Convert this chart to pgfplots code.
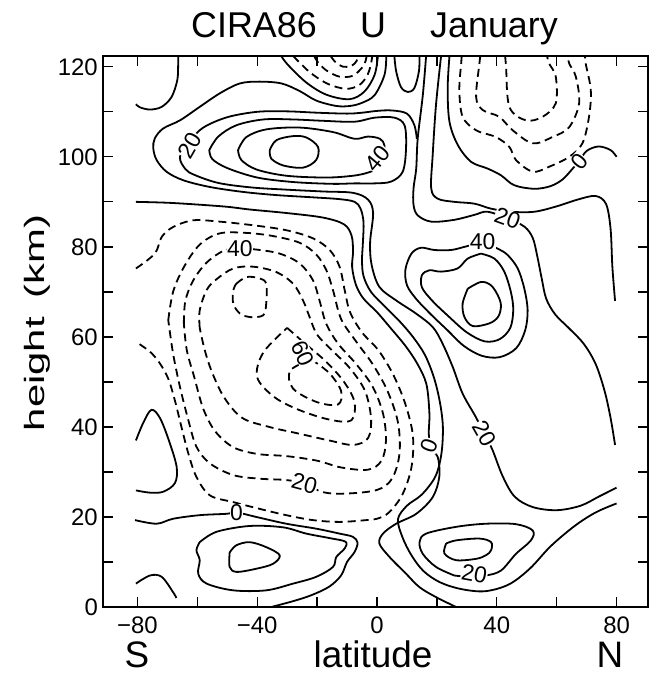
\documentclass[border=0pt]{standalone}
\usepackage{fontspec}
\setmainfont{Liberation Sans}
\usepackage{pgfplots}
\pgfplotsset{compat=1.18}
\begin{document}
\begin{tikzpicture}[x=1bp,y=1bp,
  sol/.style={line width=1.8bp, black, smooth, tension=0.55},
  das/.style={line width=1.8bp, black, smooth, tension=0.55, dash pattern=on 8bp off 5bp},
  lab/.style={font=\fontsize{23}{23}\selectfont, fill=white, inner sep=0.5bp}]
\path[use as bounding box] (-103,-68) rectangle (548,607);
\begin{axis}[
  at={(0,0)}, anchor=south west,
  width=545bp, height=551bp, scale only axis,
  xmin=-91.5, xmax=90.5, ymin=0, ymax=122.4,
  axis line style={line width=1.6bp},
  tick align=inside, major tick length=10bp,
  every tick/.style={line width=1.3bp, black},
  xtick={-80,-60,...,80}, xticklabels={\char"2212 80,,\char"2212 40,,0,,40,,80},
  ytick={0,10,...,120}, yticklabels={0,,20,,40,,60,,80,,100,,120},
  ticklabel style={font=\fontsize{24}{24}\selectfont},
  xticklabel style={anchor=north, inner sep=0pt, yshift=-10bp},
  yticklabel style={anchor=east, inner sep=0pt, xshift=-5bp},
]
% ---------- upper region ----------
\addplot[sol] coordinates {(-66.4,122.4)(-66.4,120.4)(-66.7,117)(-68.6,113.3)(-71.9,111.1)(-75.8,110.5)(-79.2,111)(-80.5,111.7)};
\addplot[das] coordinates {(-28,122.4)(-25.8,120.9)(-21.9,118.5)(-16.4,116.2)(-10.3,115.1)(-5.8,116)(-3.1,118.3)(-1.9,121)(-1.6,122.4)};
\addplot[das] coordinates {(-21,122.4)(-19.7,121)(-16.9,119.2)(-12.5,117.8)(-8.1,118)(-5,119.8)(-3.8,121.3)(-3.5,122.4)};
\addplot[das] coordinates {(-15.5,122.4)(-13.8,121)(-11.3,120)(-8.5,120.2)(-6.8,121.3)(-6.4,122.4)};
% 0 around top lobe
\addplot[sol] coordinates {(-32,122.4)(-29.7,120.4)(-23.6,116.5)(-16.9,113.8)(-9.2,112.8)(-4.2,114.5)(-0.8,118.2)(0.3,122.4)};
% V
\addplot[sol] coordinates {(5.8,122.4)(6.4,119)(8,115.5)(10.3,114.4)(12.5,115.3)(14,119)(14.2,122.4)};
% 10
\addplot[sol] coordinates {(3.1,122.4)(2.5,118.2)(-0.8,113.7)(-5,112)(-9,111.3)(-13.6,111.3)(-20.3,112.5)(-25.8,114.6)(-31.9,116.3)(-39.2,116.7)(-45.8,116.3)(-52.5,114.1)(-59.2,111.1)(-65.8,108.1)(-71.4,106.3)(-74.2,104.1)(-74.7,101.9)(-73.6,99.3)(-70.3,96.7)(-64.7,94.8)(-55.8,93.3)(-44.7,92.2)(-33.6,91.5)(-21.4,91)(-12.5,90.6)(-7.5,90)(-5.5,88.5)(-4.5,85.5)(-4.7,81)(-5,77)(-4.5,73.5)(-2,70)(3,66.5)(7.5,63.5)(12,60)(16,56)(19,51)(21,45.5)(22,40)(21.5,34)(19.5,29)(15,25)(10,22.5)(7,19.5)(8.5,15.5)(11.5,11.5)(15.5,8)(21,5.5)(28,4)(36,3.5)(44,5)(51,8.5)(58,13.5)(66,18)(73,21)(80,23)};
% 20 (upper jet + band)
\addplot[sol] coordinates {(13.3,104)(12.5,107)(10,109.6)(5,110.3)(0,110.2)(-5,109.8)(-10,109.6)(-20,109.8)(-30,110.1)(-40,110)(-50,108.8)(-58,106.5)(-62.5,103.5)(-65.8,100)(-64,97.3)(-61,96)(-53,94.2)(-42,93.2)(-30,92.7)(-18,92.3)(-8,92)(-3,90.5)(-1.3,87.5)(-2.3,81)(-1.8,76)(0.8,71.1)(6.4,68.1)(13,65.2)(18.6,62.2)(21.9,58.5)(25.3,53.3)(28.6,47.4)(33,42.2)(35.8,38.5)(38.5,35)(42,29)(46,24.5)(52,22.2)(60,21.5)(68,22.5)(74,24.5)(80,26.5)};
% 30
\addplot[sol] coordinates {(-56,101.5)(-53,104.5)(-47,107)(-38,108.3)(-28,108.3)(-18,108)(-7.5,107.8)(-0.8,108.7)(5.8,108.7)(9.2,107)(9.7,101.9)(8.6,96.7)(4.7,94.5)(-0.8,94.1)(-7.5,94.1)(-15,94)(-28,94.4)(-40,95.4)(-50,97.5)(-55,99.5)(-56,101.5)};
% 40
\addplot[sol] coordinates {(-46.4,101.5)(-43.6,104.4)(-36.9,106.1)(-25.8,106.5)(-14.7,105.5)(-7.5,104)(-3,104.5)(1,104)(2.5,102.5)(2,99.8)(0,97.5)(-3,96.5)(-8,95.8)(-17,95.4)(-30.3,95.8)(-40.3,97.2)(-45.3,99.3)(-46.4,101.5)};
% 50
\addplot[sol] coordinates {(-35.8,101.5)(-33.6,103.7)(-28,104.6)(-23.6,104.3)(-19.7,102.2)(-20.3,99.3)(-24.7,97.6)(-31.4,98.1)(-35.3,99.6)(-35.8,101.5)};
% 0 (L2)
\addplot[sol] coordinates {(-80.5,90)(-70,89.8)(-60,89.4)(-50,88.9)(-42.5,88.3)(-30,87.5)(-18,86.5)(-11,85)(-8.5,82.5)(-8,79)(-8.3,75.5)(-7,71.5)(-4.5,68.5)(0,65.5)(4.5,62)(9.5,58)(13.5,54)(16.5,49.5)(17.5,43)(17.3,38.5)(18,35)(20.3,33.3)(20.8,28.9)(18.6,24.4)(13.1,20.7)(6.4,18.5)(2,16.3)(0.8,14.1)(4.2,11.1)(9.7,7.4)(14.2,4.4)(19.7,2.2)(26.4,0)};
% ---------- northern upper ----------
\addplot[das] coordinates {(28.3,122.4)(28.1,120.7)(27.5,114.8)(28.6,108.9)(33.1,105.9)(39.7,104.4)(44.2,102.2)(46.4,99.3)(52,96.7)(57.5,97.8)(64.2,100)(68.6,103)(70.8,108.9)(71.4,114.8)(69.7,120.7)(69.5,122.4)};
\addplot[das] coordinates {(34.5,122.4)(34.2,120.7)(33.1,113.3)(35.3,110.4)(40.8,108.9)(45.3,105.9)(52,103)(58.6,104.4)(64.2,106.6)(67.5,111.9)(66.4,117.8)(64.2,120.7)(63.8,122.4)};
\addplot[das] coordinates {(42.8,122.4)(43.1,120)(44.2,111.1)(49.7,108.1)(55.3,108.9)(59.7,111.9)(59.7,117.8)(57.5,120.7)(56.8,122.4)};
% 0 NE
\addplot[sol] coordinates {(24.2,122.4)(23.6,115.2)(24.2,107.8)(27,102.6)(31.4,98.9)(36.9,97.4)(41.4,95.9)(45.8,93.7)(52.5,92.9)(58,93.5)(62,95)(65.5,97.5)(67.5,99)(70,101.3)(74,102.3)(78,101.5)(80,100)};
% 10 NE
\addplot[sol] coordinates {(21.4,122.4)(19.7,111.5)(18.6,100.4)(18.1,93)(20.3,90.7)(25.8,90)(32.5,89.6)(38,88.5)(44.7,87.8)(52.5,87.8)(60,89)(67,90.5)(73,91.3)(76.5,89.5)(78,84)(78.6,75.6)(79.5,68)};
% 20 NE
\addplot[sol] coordinates {(16.4,122.4)(15.3,113.7)(13.6,104.1)(13.1,97.4)(12.2,93)(12.2,89.3)(13.6,87)(18.1,85.6)(25.8,86)(32.5,87.1)(36.9,87.8)(43.6,86.3)(49.2,84.5)(52,82)(53.5,78)(55,73)(56.5,68.5)(59.5,65)(64,62)(69,58.5)(73,54)(76,48)(78,42)(79.5,36)};
% north stratopause jet
\addplot[sol] coordinates {(35.3,81.1)(40.3,79.6)(43.6,78.2)(47,75.2)(49.2,70.7)(50.3,66)(49.5,61.5)(46.5,57.5)(41,55.5)(35,55.8)(29,58)(23.5,61.5)(18,65)(13,68.5)(10,71.5)(9.5,75)(11.5,78.5)(14.7,79.8)(19.2,79.3)(24.7,79.3)(29.2,80)(35.3,81.1)};
\addplot[sol] coordinates {(34.7,78.5)(39.2,77.4)(42.5,74.5)(44.7,70)(45.5,66)(44.5,62)(41,59.5)(36,59)(30,61)(24,64.5)(18.5,68)(15,71)(15,73.7)(17.5,74.8)(21.4,74.5)(26.9,75.2)(30.3,77.4)(34.7,78.5)};
\addplot[sol] coordinates {(30.3,70.7)(34.7,72.2)(38,71.5)(40.3,69.3)(41.4,67)(40.5,64.5)(37.5,63)(32,62.4)(29.2,64.4)(28.6,67.4)(30.3,70.7)};
% ---------- northern lower jet ----------
\addplot[sol] coordinates {(25.8,7)(19.7,8.9)(15.3,11.8)(14.2,14.4)(16.4,16.3)(26.4,17.8)(36.4,18.5)(46.4,18.4)(52,17)(51.4,14.8)(46.4,11.8)(41.4,8.1)(36.4,7)(30.8,6.7)(25.8,7)};
\addplot[sol] coordinates {(23.1,14.1)(26.4,14.8)(34.2,15.2)(38.1,14.4)(38.1,12.6)(36.4,11.5)(33.1,10.7)(26.4,10.4)(22.5,11.9)(23.1,14.1)};
% ---------- southern lower ----------
\addplot[sol] coordinates {(-80.5,37)(-78,41)(-75.3,43.8)(-72.5,42)(-69.5,37)(-66.9,31.1)(-67.5,27.5)(-71.4,25.6)(-75.8,25.4)(-80.5,25.9)};
\addplot[sol] coordinates {(-80.5,5.2)(-75.8,7)(-71.9,6.7)(-68.1,3.3)(-67,2)};
\addplot[sol] coordinates {(-80.8,19.3)(-73.6,18.5)(-68.1,19.6)(-59.2,20.4)(-50.3,20.7)(-46.9,21)(-40.3,20)(-30.3,18.5)(-20.3,17.4)(-12.5,16.3)(-8.1,15.6)(-6.5,14.3)(-7.5,12.2)(-10,10)(-12,7)(-16,4.5)(-22,2.6)(-28,1.3)(-35.3,0)};
\addplot[sol] coordinates {(-59.2,14.4)(-53.6,16.7)(-42.5,18)(-31.4,17.7)(-23.6,16.3)(-15.8,15.3)(-10.5,14.5)(-10.8,13)(-13.6,11.1)(-14.7,8.9)(-20.3,6.7)(-28,5.2)(-37,3.7)(-48,3.7)(-56.9,5.2)(-59.7,7.4)(-59.2,10.4)(-60.3,12.6)(-59.2,14.4)};
\addplot[sol] coordinates {(-49.2,12.1)(-47,13.7)(-42.5,14.4)(-37,13.3)(-32.5,11.5)(-34.7,9.6)(-40.3,8.5)(-46.9,7.8)(-49.2,8.9)(-49.2,12.1)};
% ---------- negative lobe ----------
\addplot[das] coordinates {(-80.5,75.2)(-74.2,78.5)(-71.9,82.2)(-68.1,84.4)(-61.4,85.9)(-52.5,85.6)(-41.4,84.8)(-30.3,83.7)(-21.4,81.9)(-15.8,79.3)(-12.5,75.6)(-10.8,70.4)(-9,65.5)(-5,61)(0.5,57)(5.5,51.5)(9.5,45)(12,38)(11.5,31)(8.5,25)(4,21)(0,19.6)(-3.6,19.3)(-12.5,18.9)(-21.4,19.3)(-30.3,20.4)(-39.2,21.8)(-48,23.3)(-55.8,24.8)(-60.3,28.9)(-63,34.1)(-65.3,40)(-67.5,45.9)(-69.7,50.7)(-72.5,54.1)(-75.8,56.7)(-80.5,58.9)};
\addplot[das] coordinates {(-69.7,63.7)(-68.1,70)(-64.5,75.5)(-59.2,80.5)(-52.5,83)(-43.6,83.1)(-34.7,82.4)(-25.8,80.9)(-20.3,78.3)(-16.9,74.8)(-14.7,70.4)(-12,64)(-7,59)(-1.5,54)(3.5,48)(7,41)(7.5,34)(5,28.5)(0,26)(-10.3,25.2)(-18,25.5)(-24.2,27.4)(-30.3,28.2)(-39.2,28.5)(-48,29.3)(-55.8,31.9)(-60.3,35.6)(-63,41.5)(-65.8,48.9)(-68.1,56.3)(-69.7,63.7)};
\addplot[das] coordinates {(-64.5,63)(-64,68)(-61.4,72.5)(-56.9,76.5)(-51,79.2)(-45.8,79.6)(-40.3,79.4)(-32.5,78.5)(-25.8,76.3)(-21.4,72.6)(-19.2,68.1)(-17,63)(-13,58.5)(-7,54)(-1.5,49)(2,43)(3,37)(1.5,32.5)(-3,30.5)(-12,31)(-20,32.5)(-30,33.5)(-40,34)(-48,35.5)(-54,39)(-58,44)(-61,51)(-63.5,57)(-64.5,63)};
\addplot[das] coordinates {(-59.2,62)(-59.2,65.9)(-56.9,70.4)(-53.6,72.8)(-48,75.2)(-41.4,75.6)(-33.6,74.4)(-28,71.8)(-24.7,68.1)(-22.5,64.4)(-20,60.5)(-15,57)(-9,53)(-4,48)(-2,42)(-3,37.5)(-8,36)(-16,37)(-26,38.5)(-36,40)(-45,42)(-51,46.5)(-55,52)(-57.5,57)(-59.2,62)};
\addplot[das] coordinates {(-47,71.8)(-43.6,73.3)(-39.2,73)(-37,71.8)(-37,67.4)(-38,64.8)(-42.5,64.4)(-45.8,65.2)(-48,67.4)(-48,70.4)(-47,71.8)};
\addplot[das] coordinates {(-30,62)(-24,58.5)(-17,54.5)(-11,50)(-7.5,45.5)(-8.5,41.5)(-15,41.5)(-25,43.5)(-34,46.5)(-40,51)(-38,56.5)(-30,62)};
\addplot[das] coordinates {(-22,55)(-16,52)(-12,48)(-13,45)(-20,45.5)(-28,48.5)(-29,52.5)(-22,55)};
% labels
\node[lab, rotate=60] at (axis cs:-62.5,102.6) {20};
\node[lab, rotate=50] at (axis cs:0.3,99.6) {40};
\node[lab] at (axis cs:-45.8,79.6) {40};
\node[lab, rotate=-65] at (axis cs:-24.7,56.3) {60};
\node[lab, rotate=-15] at (axis cs:-24.2,27.4) {20};
\node[lab] at (axis cs:-46.9,21) {0};
\node[lab, rotate=70] at (axis cs:17.5,35.9) {0};
\node[lab, rotate=-60] at (axis cs:35.8,38.5) {20};
\node[lab, rotate=-10] at (axis cs:32.5,7.4) {20};
\node[lab, rotate=-20] at (axis cs:43.6,86.3) {20};
\node[lab] at (axis cs:35.3,81.1) {40};
\node[lab, rotate=50] at (axis cs:67.5,99) {0};
\end{axis}
% titles
\node[anchor=base west, inner sep=0pt, font=\fontsize{36}{36}\selectfont] at (88,569) {CIRA86};
\node[anchor=base, inner sep=0pt, font=\fontsize{36}{36}\selectfont] at (270,569) {U};
\node[anchor=base east, inner sep=0pt, font=\fontsize{36}{36}\selectfont] at (455,569) {January};
\node[anchor=base, inner sep=0pt, font=\fontsize{37}{37}\selectfont] at (270,-60) {latitude};
\node[anchor=base, inner sep=0pt, font=\fontsize{37}{37}\selectfont] at (34,-60) {S};
\node[anchor=base, inner sep=0pt, font=\fontsize{37}{37}\selectfont] at (507,-60) {N};
\node[rotate=90, xscale=1.5, inner sep=0pt, font=\fontsize{28}{28}\selectfont] at (-66,284) {height\hspace{0.45em}(km)};
\end{tikzpicture}
\end{document}
